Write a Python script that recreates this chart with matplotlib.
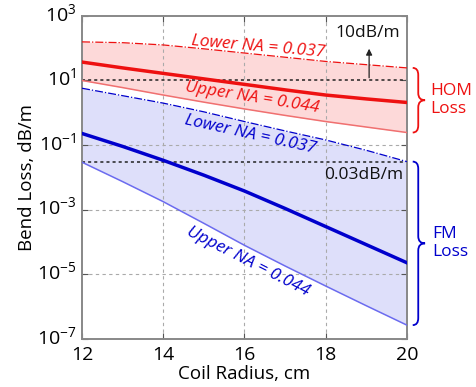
import numpy as np
import matplotlib
matplotlib.use("Agg")
import matplotlib.pyplot as plt
import matplotlib.transforms as mtransforms
from matplotlib.path import Path
from matplotlib.patches import PathPatch
from matplotlib.ticker import LogFormatterMathtext, FixedLocator

plt.rcParams['font.family'] = ['Open Sans', 'DejaVu Sans']
plt.rcParams['mathtext.fontset'] = 'custom'
plt.rcParams['mathtext.rm'] = 'Open Sans'

# ==== data (log10 of bend loss, dB/m) ====
radius = [12, 13, 14, 15, 16, 17, 18, 19, 20]
hom_lower_na = [2.195, 2.17, 2.10, 1.98, 1.85, 1.72, 1.59, 1.49, 1.39]
hom_mid = [1.57, 1.39, 1.22, 1.05, 0.88, 0.71, 0.55, 0.43, 0.32]
hom_upper_na = [1.00, 0.78, 0.55, 0.33, 0.12, -0.08, -0.27, -0.44, -0.61]
fm_lower_na = [0.76, 0.53, 0.30, 0.03, -0.27, -0.56, -0.84, -1.16, -1.51]
fm_mid = [-0.64, -1.04, -1.47, -1.93, -2.42, -2.96, -3.52, -4.08, -4.64]
fm_upper_na = [-1.53, -2.13, -2.75, -3.42, -4.10, -4.74, -5.36, -5.97, -6.57]
thresholds = [10, 0.03]

x = np.array(radius)
def lin(v):
    return 10 ** np.array(v)

RED, RED_THIN, RED_FILL = '#ee1111', '#f07070', '#fdd9d9'
BLUE, BLUE_THIN, BLUE_FILL = '#0000cc', '#6b6bef', '#dedffa'

fig = plt.figure(figsize=(4.77, 3.87), dpi=100)
ax = fig.add_axes([0.172, 0.124, 0.681, 0.835])
ax.set_yscale('log')
ax.set_xlim(12, 20)
ax.set_ylim(1e-7, 1e3)

# grid
for gx in [14, 16, 18]:
    ax.axvline(gx, color='#aaaaaa', lw=0.8, dashes=(3, 3), zorder=1)
for gy in [1e-5, 1e-3, 1e-1]:
    ax.axhline(gy, color='#aaaaaa', lw=0.8, dashes=(3, 3), zorder=1)

# bands
ax.fill_between(x, lin(hom_upper_na), lin(hom_lower_na), color=RED_FILL, lw=0, zorder=0.5)
ax.fill_between(x, lin(fm_upper_na), lin(fm_lower_na), color=BLUE_FILL, lw=0, zorder=0.5)

ax.plot(x, lin(hom_lower_na), color=RED, lw=0.9, ls='-.', zorder=3)
ax.plot(x, lin(hom_mid), color=RED, lw=2.5, zorder=3)
ax.plot(x, lin(hom_upper_na), color=RED_THIN, lw=1.1, zorder=3)
ax.plot(x, lin(fm_lower_na), color=BLUE, lw=0.9, ls='-.', zorder=3)
ax.plot(x, lin(fm_mid), color=BLUE, lw=2.5, zorder=3)
ax.plot(x, lin(fm_upper_na), color=BLUE_THIN, lw=1.1, zorder=3)

for t in thresholds:
    ax.axhline(t, color='#222222', lw=1.1, dashes=(2, 2), zorder=2)

# labels on curves
fs = 12.5
ax.text(16.33, 10 ** 2.04, 'Lower NA = 0.037', color=RED, fontsize=fs, rotation=-5,
        ha='center', va='center', rotation_mode='anchor', style='italic')
ax.text(16.2, 10 ** 0.46, 'Upper NA = 0.044', color=RED, fontsize=fs, rotation=-9,
        ha='center', va='center', rotation_mode='anchor', style='italic')
ax.text(16.14, 10 ** -0.68, 'Lower NA = 0.037', color=BLUE, fontsize=fs, rotation=-12.5,
        ha='center', va='center', rotation_mode='anchor', style='italic')
ax.text(16.09, 10 ** -4.62, 'Upper NA = 0.044', color=BLUE, fontsize=fs, rotation=-27,
        ha='center', va='center', rotation_mode='anchor', style='italic')

ax.text(19.04, 10 ** 2.47, '10dB/m', fontsize=12.5, ha='center', va='center', color='#111111')
ax.annotate('', xy=(19.07, 10 ** 2.07), xytext=(19.07, 10),
            arrowprops=dict(arrowstyle='-|>', color='#222222', lw=0.9, mutation_scale=9))
ax.text(19.92, 10 ** -1.92, '0.03dB/m', fontsize=12.5, ha='right', va='center', color='#111111')

# braces outside the axes
def frac(v):
    return (v + 7) / 10.0

def brace(top, bot, color, x0=1.018, x1=1.035, x2=1.056, r=0.022):
    ym = (top + bot) / 2
    verts = [(x0, top), (x1, top), (x1, top - r),
             (x1, ym + r), (x1, ym), (x2, ym),
             (x1, ym), (x1, ym - r),
             (x1, bot + r), (x1, bot), (x0, bot)]
    codes = [Path.MOVETO, Path.CURVE3, Path.CURVE3,
             Path.LINETO, Path.CURVE3, Path.CURVE3,
             Path.CURVE3, Path.CURVE3,
             Path.LINETO, Path.CURVE3, Path.CURVE3]
    ax.add_patch(PathPatch(Path(verts, codes), fc='none', ec=color, lw=1.3,
                           transform=ax.transAxes, clip_on=False))
    return ym

ym = brace(frac(hom_lower_na[-1]), frac(hom_upper_na[-1]), RED)
ax.text(1.072, ym, 'HOM\nLoss', transform=ax.transAxes, color=RED, fontsize=12.5,
        ha='left', va='center', linespacing=1.15)
ym = brace(frac(fm_lower_na[-1]), frac(fm_upper_na[-1]), BLUE)
ax.text(1.078, ym, 'FM\nLoss', transform=ax.transAxes, color=BLUE, fontsize=12.5,
        ha='left', va='center', linespacing=1.15)

# axes styling
ax.yaxis.set_major_locator(FixedLocator([1e-7, 1e-5, 1e-3, 1e-1, 1e1, 1e3]))
ax.yaxis.set_major_formatter(LogFormatterMathtext())
ax.yaxis.set_minor_locator(FixedLocator([]))
ax.set_xticks([12, 14, 16, 18, 20])
ax.tick_params(direction='in', length=4, width=0.8, color='#555555', labelsize=14,
               right=True, top=True, pad=4)
ax.tick_params(axis='x', pad=5)
for s in ax.spines.values():
    s.set_color('#888888')
    s.set_linewidth(1.4)
ax.set_xlabel('Coil Radius, cm', fontsize=13.5, labelpad=1)
ax.set_ylabel('Bend Loss, dB/m', fontsize=13.5, labelpad=1)

# nudge the decade labels up a little, as in the original
shift = mtransforms.ScaledTranslation(0, 3 / 72, fig.dpi_scale_trans)
for tick in ax.yaxis.get_major_ticks():
    tick.label1.set_transform(tick.label1.get_transform() + shift)

fig.savefig('out.png', dpi=100)
